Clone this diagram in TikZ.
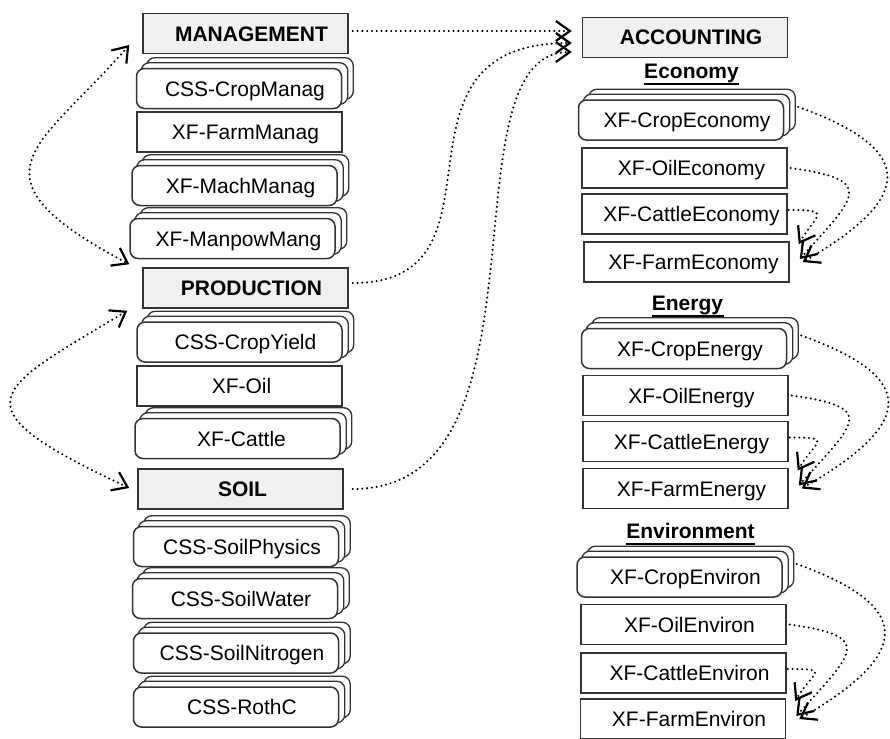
\documentclass[tikz,border=0pt]{standalone}
\usepackage{fontspec}
\setmainfont{Liberation Sans}
\usetikzlibrary{arrows.meta,backgrounds}
\def\boxnudge{6pt}
\begin{document}
\begin{tikzpicture}[x=0.5pt,y=-0.5pt,
  txt/.style={font=\fontsize{10.5}{12}\selectfont},
  nudge/.code={\def\boxnudge{#1}},
  box/.style={txt, draw=black!80, line width=0.75pt, fill=white,
    minimum width=102.5pt, minimum height=20pt, inner xsep=1pt, inner ysep=0pt,
    text height=7.5pt, text depth=0pt,
    execute at begin node={\hspace*{\boxnudge}}},
  headbox/.style={box, fill=black!6, font=\bfseries\fontsize{10.5}{12}\selectfont},
  stackbox/.style={box, rounded corners=4pt},
  stackback/.style={draw=black!80, line width=0.65pt, fill=white, rounded corners=4pt},
  section/.style={font=\bfseries\fontsize{10.5}{12}\selectfont, inner sep=0pt, anchor=base},
  flow/.style={line width=1.15pt, line cap=round, dash pattern=on 0pt off 2.4pt,
    -{Straight Barb[length=7pt,width=10pt,line width=1.1pt]}},
  link/.style={flow, {Straight Barb[length=7pt,width=10pt,line width=1.1pt]}-{Straight Barb[length=7pt,width=10pt,line width=1.1pt]}},
]
\useasboundingbox (0,0) rectangle (890,739);

% ---- left column: management, production, soil modules
\node[headbox] (mgmt) at (245.5,33.5) {MANAGEMENT};
\node[stackbox] (cropmanag) at (239,88.5) {CSS-CropManag};
\node[box] (farmmanag) at (239.5,132) {XF-FarmManag};
\node[stackbox] (machmanag) at (234.5,185.5) {XF-MachManag};
\node[stackbox] (manpow) at (232.5,238.5) {XF-ManpowMang};
\node[headbox] (prod) at (245.5,288) {PRODUCTION};
\node[stackbox] (cropyield) at (239.5,342) {CSS-CropYield};
\node[box,nudge=2pt] (oil) at (239.5,386) {XF-Oil};
\node[stackbox,nudge=4pt] (cattle) at (237.5,438.5) {XF-Cattle};
\node[headbox,nudge=2pt] (soil) at (240.5,489) {SOIL};
\node[stackbox] (soilphys) at (236,546.5) {CSS-SoilPhysics};
\node[stackbox] (soilwater) at (235,598.5) {CSS-SoilWater};
\node[stackbox] (soilnitro) at (236,653) {CSS-SoilNitrogen};
\node[stackbox] (rothc) at (236,707) {CSS-RothC};

% ---- right column: accounting modules
\node[headbox] (acct) at (685,37.5) {ACCOUNTING};
\node[section] (econ) at (691.5,78) {Economy};
\node[stackbox] (cropecon) at (681,120) {XF-CropEconomy};
\node[box,nudge=7pt] (oilecon) at (684.5,168) {XF-OilEconomy};
\node[box,nudge=7pt] (cattleecon) at (684.5,214) {XF-CattleEconomy};
\node[box,nudge=7pt] (farmecon) at (686.5,262) {XF-FarmEconomy};
\node[section] (energy) at (687.5,310) {Energy};
\node[stackbox] (cropenergy) at (684,348.5) {XF-CropEnergy};
\node[box] (oilenergy) at (685.5,395.5) {XF-OilEnergy};
\node[box] (cattleenergy) at (685.5,441.5) {XF-CattleEnergy};
\node[box] (farmenergy) at (685.5,488.5) {XF-FarmEnergy};
\node[section] (environ) at (690.5,538) {Environment};
\node[stackbox] (cropenv) at (679.5,577) {XF-CropEnviron};
\node[box] (oilenv) at (683.5,624.5) {XF-OilEnviron};
\node[box] (cattleenv) at (683.5,673) {XF-CattleEnviron};
\node[box] (farmenv) at (683,719) {XF-FarmEnviron};

% section underlines
\foreach \s in {econ,energy,environ}
  \draw[line width=1pt] ([yshift=-3pt]\s.base west) -- ([yshift=-3pt]\s.base east);

% stacked copies behind the multi-instance modules
\begin{scope}[on background layer]
  \foreach \n in {cropmanag,machmanag,manpow,cropyield,cattle,soilphys,soilwater,
                  soilnitro,rothc,cropecon,cropenergy,cropenv} {
    \draw[stackback] ([shift={(11,-10)}]\n.south west) rectangle ([shift={(11,-10)}]\n.north east);
    \draw[stackback] ([shift={(5.5,-5)}]\n.south west) rectangle ([shift={(5.5,-5)}]\n.north east);
  }
\end{scope}

% ---- flows into ACCOUNTING
\draw[flow] ([shift={(4,-2.5)}]mgmt.east) -- ([shift={(-10,-6.5)}]acct.west);
\draw[flow] ([shift={(4,-5)}]prod.east) .. controls +(168,0) and +(-200,0) .. ([shift={(-10,5.5)}]acct.west);
\draw[flow] ([shift={(9,0)}]soil.east) .. controls +(208,0) and +(-132,0) .. ([shift={(-10,14.5)}]acct.west);

% ---- two-way links on the left
\draw[link] ([shift={(-13,11.5)}]mgmt.west) .. controls +(-89.6,103.1) and +(-169.1,-89.8) .. ([shift={(-13,-3)}]prod.north west);
\draw[link] ([shift={(-15,2)}]prod.south west) .. controls +(-133.9,80.4) and +(-178,-83.1) .. ([shift={(-8,-1)}]soil.west);

% ---- aggregation into the farm-level modules
\foreach \nA/\nB/\nC/\nD in {cropecon/oilecon/cattleecon/farmecon,
    cropenergy/oilenergy/cattleenergy/farmenergy,
    cropenv/oilenv/cattleenv/farmenv} {
  \draw[flow] ([shift={(14,-13)}]\nA.east) .. controls +(120,43) and +(111,-64) .. ([shift={(13,0)}]\nD.east);
  \draw[flow] ([shift={(3,0)}]\nB.east) .. controls +(85,12) and +(58,-64) .. ([shift={(10,-3)}]\nD.east);
  \draw[flow] ([shift={(1,-4)}]\nC.east) .. controls +(45,0) and +(17.5,-30) .. ([shift={(9,-18)}]\nD.east);
}
\end{tikzpicture}
\end{document}
